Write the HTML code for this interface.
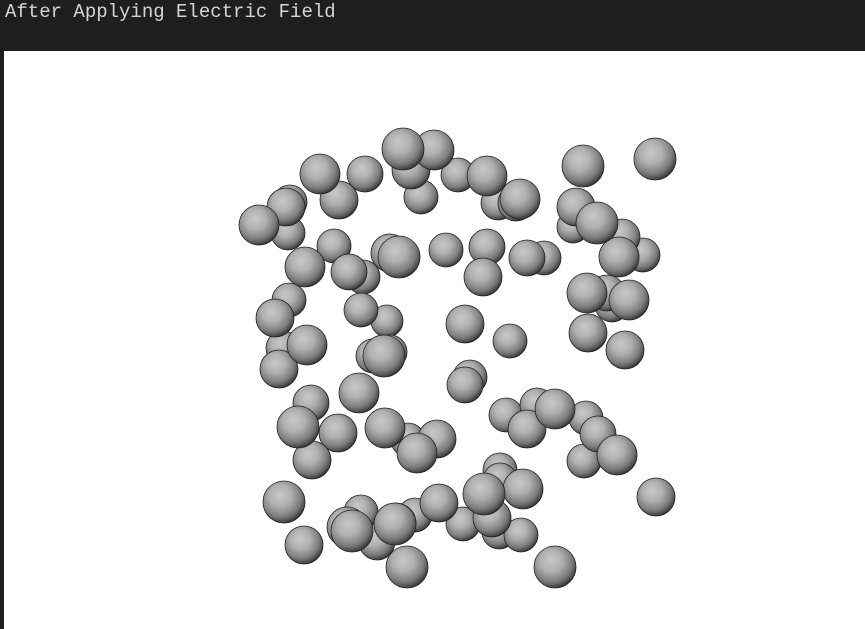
<!DOCTYPE html>
<html><head><meta charset="utf-8">
<style>
html,body{margin:0;padding:0;background:#1e1e1e;width:865px;height:629px;overflow:hidden}
#title{position:absolute;left:5px;top:1px;font:19px "Liberation Mono",monospace;color:#d4d4d4}
#plot{position:absolute;left:4px;top:51px;width:861px;height:578px;background:#fff}
svg{position:absolute;left:0;top:0}
</style></head><body>
<div id="title">After Applying Electric Field</div>
<div id="plot"></div>
<svg id="chart" width="865" height="629">
<defs>
<radialGradient id="sph" cx="0.42" cy="0.38" r="0.65" fx="0.4" fy="0.33">
<stop offset="0" stop-color="#c8c8c8"/>
<stop offset="0.4" stop-color="#b0b0b0"/>
<stop offset="0.75" stop-color="#7c7c7c"/>
<stop offset="0.92" stop-color="#4a4a4a"/>
<stop offset="1" stop-color="#262626"/>
</radialGradient>
</defs>
<g id="marks"></g>
</svg>
<script>
// particle positions (data units: x, y in plot space, size as depth cue)
const px = [50,46,48,19,80,99,125,171,181,163,194,218,247,258,276,280,343,415,333,336,357,382,403,379,94,65,109,123,150,159,206,247,243,287,304,49,35,121,147,225,270,347,367,372,389,348,385,67,43,39,133,150,144,
39,119,230,225,71,58,98,72,145,168,197,177,266,297,287,315,346,358,344,377,416,44,64,121,107,112,137,156,155,175,167,199,223,260,260,252,244,283,259,281,315];
const py = [82,87,113,105,54,80,54,50,77,29,30,55,56,83,83,79,46,39,107,87,103,117,135,137,126,147,152,157,133,137,130,127,157,138,138,180,198,190,201,204,221,173,173,185,180,213,230,225,228,249,236,232,236,
249,273,257,265,283,307,313,340,308,320,319,333,295,285,309,289,298,314,341,335,377,382,425,392,407,411,422,403,404,395,447,383,404,350,360,398,374,369,412,415,447];
const pr = [17,19,17,20,20,19,18,19,17,21,20,17,20,17,18,20,21,21,16,19,21,18,17,20,17,20,18,17,19,21,17,18,19,18,17,17,19,17,16,19,17,20,18,17,20,19,19,20,17,17,17,17,21,
19,20,17,18,18,21,19,19,20,17,19,20,17,17,19,20,17,18,17,20,19,21,19,17,20,21,18,20,21,17,21,19,17,17,17,19,21,20,17,17,21];

const xScale = v => 240 + v;
const yScale = v => 120 + v;
const rScale = v => v;

const g = document.getElementById('marks');
const order = px.map((_, i) => i).sort((a, b) => pr[a] - pr[b]);
order.forEach(i => {
  const c = document.createElementNS('http://www.w3.org/2000/svg', 'circle');
  c.setAttribute('cx', xScale(px[i]));
  c.setAttribute('cy', yScale(py[i]));
  c.setAttribute('r', rScale(pr[i]));
  c.setAttribute('fill', 'url(#sph)');
  c.setAttribute('stroke', '#222');
  c.setAttribute('stroke-width', '0.8');
  
  
  g.appendChild(c);
});
</script>
</body></html>
